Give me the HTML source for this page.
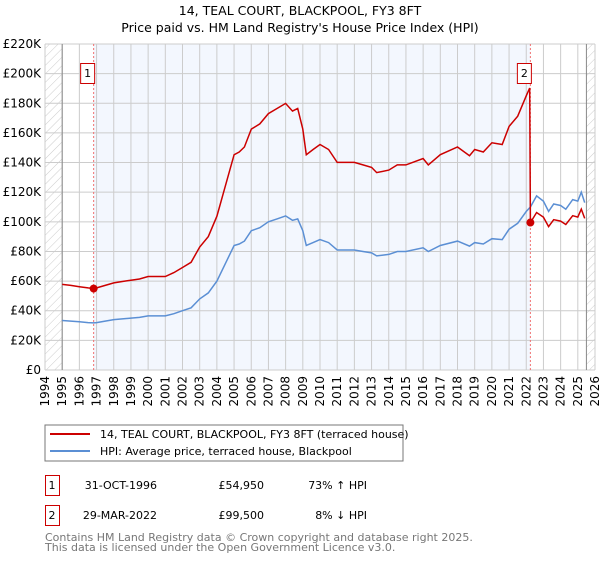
<!DOCTYPE html>
<html><head><meta charset="utf-8"><style>
body{margin:0;background:#fff;width:600px;height:560px;overflow:hidden;font-family:"DejaVu Sans","Liberation Sans",sans-serif;}
svg text{font-family:"DejaVu Sans","Liberation Sans",sans-serif;}
</style></head><body>
<svg id="chart" width="600" height="560" xmlns="http://www.w3.org/2000/svg">
<defs><pattern id="hatch" width="6" height="6" patternUnits="userSpaceOnUse" patternTransform="rotate(45)"><line x1="0" y1="0" x2="0" y2="6" stroke="#ccc" stroke-width="1"/></pattern></defs>
<text x="300" y="15" text-anchor="middle" font-size="12.5" fill="#000">14, TEAL COURT, BLACKPOOL, FY3 8FT</text>
<text x="300" y="32" text-anchor="middle" font-size="12.5" fill="#000">Price paid vs. HM Land Registry's House Price Index (HPI)</text>
<g id="grid"></g><g id="marks"></g><g id="axes"></g>
<rect x="45" y="425" width="358" height="36" fill="#fff" stroke="#777"/>
<line x1="50" y1="434" x2="90" y2="434" stroke="#cc0000" stroke-width="2"/>
<text x="100" y="438" font-size="11">14, TEAL COURT, BLACKPOOL, FY3 8FT (terraced house)</text>
<line x1="50" y1="451" x2="90" y2="451" stroke="#5b8fd4" stroke-width="2"/>
<text x="100" y="455" font-size="11">HPI: Average price, terraced house, Blackpool</text>
<g>
<rect x="45.5" y="475.5" width="14" height="20" fill="#fff" stroke="#cc0000"/><text x="52" y="489" font-size="11" text-anchor="middle">1</text>
<text x="157" y="489" font-size="11" text-anchor="end">31-OCT-1996</text>
<text x="264" y="489" font-size="11" text-anchor="end">£54,950</text>
<text x="367" y="489" font-size="11" text-anchor="end">73% ↑ HPI</text></g>
<g>
<rect x="45.5" y="505.5" width="14" height="20" fill="#fff" stroke="#cc0000"/><text x="52" y="519" font-size="11" text-anchor="middle">2</text>
<text x="157" y="519" font-size="11" text-anchor="end">29-MAR-2022</text>
<text x="264" y="519" font-size="11" text-anchor="end">£99,500</text>
<text x="367" y="519" font-size="11" text-anchor="end">8% ↓ HPI</text></g>
<text x="45" y="541" font-size="11" fill="#777">Contains HM Land Registry data © Crown copyright and database right 2025.</text>
<text x="45" y="551" font-size="11" fill="#777">This data is licensed under the Open Government Licence v3.0.</text>
</svg>
<script>
const hpiYears=[1995,1995.5,1996,1996.5,1996.83,1997,1997.5,1998,1998.5,1999,1999.5,2000,2000.5,2001,2001.5,2002,2002.5,2003,2003.5,2004,2004.5,2005,2005.3,2005.6,2006,2006.5,2007,2007.5,2008,2008.4,2008.7,2009,2009.2,2009.6,2010,2010.5,2011,2012,2012.5,2013,2013.3,2014,2014.5,2015,2016,2016.3,2017,2018,2018.7,2019,2019.5,2020,2020.6,2021,2021.5,2022,2022.24,2022.6,2023,2023.3,2023.6,2024,2024.3,2024.7,2025,2025.2,2025.4];
const hpiValues=[33.4,33,32.5,32,31.8,32,33,34,34.5,35,35.5,36.5,36.5,36.5,38,40,42,48,52,60,72,84,85,87,94,96,100,102,104,101,102,94,84,86,88,86,81,81,80,79,77,78,80,80,82.5,80,84,87,83.6,86,85,88.6,88,95,99,107,110,117.5,114,107,112,111,108.5,115,114,120,113];
const priceYears=[1995,1995.5,1996,1996.5,1996.83,1997,1997.5,1998,1998.5,1999,1999.5,2000,2000.5,2001,2001.5,2002,2002.5,2003,2003.5,2004,2004.5,2005,2005.3,2005.6,2006,2006.5,2007,2007.5,2008,2008.4,2008.7,2009,2009.2,2009.6,2010,2010.5,2011,2012,2012.5,2013,2013.3,2014,2014.5,2015,2016,2016.3,2017,2018,2018.7,2019,2019.5,2020,2020.6,2021,2021.5,2022,2022.2,2022.24,2022.6,2023,2023.3,2023.6,2024,2024.3,2024.7,2025,2025.2,2025.4];
const priceValues=[57.8,57.1,56.2,55.4,55.0,55.4,57.1,58.8,59.7,60.6,61.4,63.1,63.1,63.1,65.7,69.2,72.7,83.0,90.0,103.8,124.6,145.3,147.1,150.5,162.6,166.1,173,176.5,179.9,174.7,176.5,162.6,145.3,148.8,152.2,148.8,140.1,140.1,138.4,136.7,133.2,134.9,138.4,138.4,142.7,138.4,145.3,150.5,144.6,148.8,147.1,153.3,152.2,164.4,171.3,185.1,190.3,99.5,106.3,103.2,96.8,101.4,100.5,98.2,104.1,103.2,108.6,102.3];
const saleYears=[1996.83,2022.24];
const saleValues=[54.95,99.5];
const saleLabels=["1","2"];
const yTicks=[0,20,40,60,80,100,120,140,160,180,200,220];
const xTicks=[1994,1995,1996,1997,1998,1999,2000,2001,2002,2003,2004,2005,2006,2007,2008,2009,2010,2011,2012,2013,2014,2015,2016,2017,2018,2019,2020,2021,2022,2023,2024,2025,2026];

const L=45,R=595,T=44,B=370;
const X=y=>L+(y-1994)/(2026-1994)*(R-L);
const Y=v=>B-v/220*(B-T);
const NS="http://www.w3.org/2000/svg";
function mk(p,tag,a){const e=document.createElementNS(NS,tag);for(const k in a)e.setAttribute(k,a[k]);p.appendChild(e);return e;}
const grid=document.getElementById('grid'),marks=document.getElementById('marks'),axes=document.getElementById('axes');
let bg=mk(grid,'rect',{x:L,y:T,width:R-L,height:B-T,fill:'#fff'});


let sh=mk(grid,'rect',{x:X(saleYears[0]),y:T,width:X(saleYears[1])-X(saleYears[0]),height:B-T,fill:'#f3f7fe'});


let h1=mk(grid,'rect',{x:L,y:T,width:X(1995)-L,height:B-T,fill:'url(#hatch)'});


let h2=mk(grid,'rect',{x:X(2025.5),y:T,width:R-X(2025.5),height:B-T,fill:'url(#hatch)'});


xTicks.forEach(t=>{
 const g=mk(grid,'line',{x1:X(t),x2:X(t),y1:T,y2:B,stroke:'#ccc','stroke-width':1});
 
 
 const tx=mk(axes,'text',{x:0,y:0,'font-size':12,'text-anchor':'end',transform:`translate(${X(t)+4},${B+6}) rotate(-90)`});
 tx.textContent=t;
 
 
});
yTicks.forEach(t=>{
 const g=mk(grid,'line',{x1:L,x2:R,y1:Y(t),y2:Y(t),stroke:'#ccc','stroke-width':1});
 
 
 const tx=mk(axes,'text',{x:L-4,y:Y(t)+4,'font-size':12,'text-anchor':'end'});
 tx.textContent=t===0?'£0':'£'+t+'K';
 
 
});
[1995,2025.5].forEach(t=>{const l=mk(grid,'line',{x1:X(t),x2:X(t),y1:T,y2:B,stroke:'#888','stroke-width':1});
 
 });
saleYears.forEach((s,i)=>{
 const l=mk(grid,'line',{x1:X(s),x2:X(s),y1:T,y2:B,stroke:'#f07070','stroke-width':1,'stroke-dasharray':'2,2'});
 
 
});
const pts=(xs,vs)=>xs.map((x,i)=>X(x).toFixed(1)+','+Y(vs[i]).toFixed(1)).join(' ');
const hl=mk(marks,'polyline',{points:pts(hpiYears,hpiValues),fill:'none',stroke:'#5b8fd4','stroke-width':1.5});


const pl=mk(marks,'polyline',{points:pts(priceYears,priceValues),fill:'none',stroke:'#cc0000','stroke-width':1.5});


saleYears.forEach((s,i)=>{
 const c=mk(marks,'circle',{cx:X(s),cy:Y(saleValues[i]),r:4,fill:'#cc0000'});
 
 
 const bx=X(s)-6;
 const r=mk(marks,'rect',{x:bx-7,y:63.5,width:14,height:20,fill:'#fff',stroke:'#cc0000'});
 
 
 const t=mk(marks,'text',{x:bx,y:77,'font-size':11,'text-anchor':'middle'});
 t.textContent=saleLabels[i];
 
 
});
</script>
</body></html>
